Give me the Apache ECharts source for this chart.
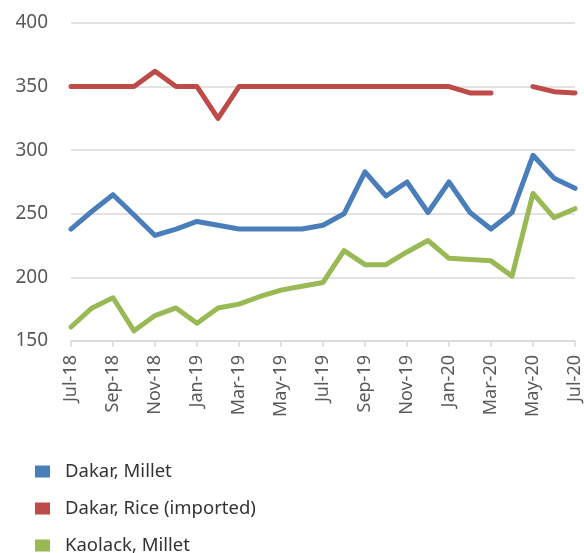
<!DOCTYPE html>
<html>
<head>
<meta charset="utf-8">
<script src="https://cdn.jsdelivr.net/npm/echarts@6/dist/echarts.min.js"></script>
<style>
html,body{margin:0;padding:0;background:#fff;}
#chart{width:584px;height:553px;}
</style>
</head>
<body>
<div id="chart"></div>
<script>
var months = ['Jul-18','Aug-18','Sep-18','Oct-18','Nov-18','Dec-18','Jan-19','Feb-19','Mar-19','Apr-19','May-19','Jun-19','Jul-19','Aug-19','Sep-19','Oct-19','Nov-19','Dec-19','Jan-20','Feb-20','Mar-20','Apr-20','May-20','Jun-20','Jul-20'];
var dakarMillet = [238,252,265,249,233,238,244,241,238,238,238,238,241,250,283,264,275,251,275,251,238,251,296,278,270];
var dakarRice = [350,350,350,350,362,350,350,325,350,350,350,350,350,350,350,350,350,350,350,345,345,null,350,346,345];
var kaolackMillet = [161,176,184,158,170,176,164,176,179,185,190,193,196,221,210,210,220,229,215,214,213,201,266,247,254];
var seriesNames = ['Dakar, Millet','Dakar, Rice (imported)','Kaolack, Millet'];
var colors = ['#4a7ebb','#be4b48','#98b954'];

var chart = echarts.init(document.getElementById('chart'));
var font = 'Noto Sans';
function line(name, data, color){
  return {name:name, type:'line', data:data, symbol:'none', connectNulls:false,
    lineStyle:{width:5, color:color, join:'round', cap:'round'}, itemStyle:{color:color}};
}
chart.setOption({
  animation:false,
  grid:{left:71, right:8, top:23, bottom:212},
  xAxis:{type:'category', data:months, boundaryGap:false,
    axisLine:{show:true, lineStyle:{color:'#d9d9d9', width:1.5}},
    axisTick:{show:true, interval:1, length:6, lineStyle:{color:'#d9d9d9', width:1.5}},
    axisLabel:{interval:1, rotate:90, fontFamily:font, fontSize:18, color:'#595959', margin:14}},
  yAxis:{type:'value', min:150, max:400, interval:50,
    axisLine:{show:false}, axisTick:{show:false},
    splitLine:{lineStyle:{color:'#d9d9d9', width:1.5}},
    axisLabel:{fontFamily:font, fontSize:19, color:'#595959', margin:23}},
  legend:{orient:'vertical', left:35, top:461.5, height:100, padding:0, itemWidth:15, itemHeight:12, itemGap:17, icon:'rect',
    data:seriesNames,
    textStyle:{fontFamily:font, fontSize:18.5, lineHeight:20, color:'#333', padding:[0,0,0,10]}},
  series:[line(seriesNames[0], dakarMillet, colors[0]), line(seriesNames[1], dakarRice, colors[1]), line(seriesNames[2], kaolackMillet, colors[2])]
});
</script>
</body>
</html>
